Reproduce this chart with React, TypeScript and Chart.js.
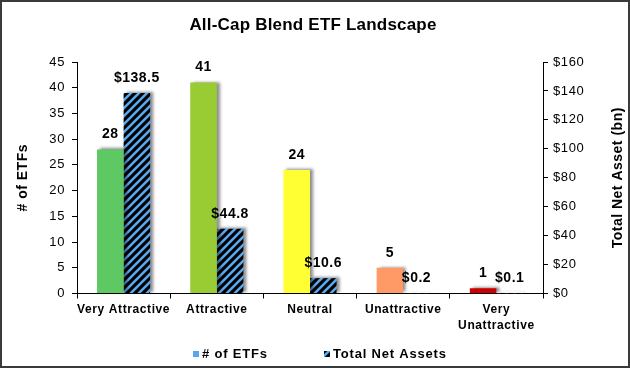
import React, { useEffect, useRef } from 'react';
import { Chart, registerables } from 'chart.js';
Chart.register(...registerables);

const chartTitle = 'All-Cap Blend ETF Landscape';
const categories: (string | string[])[] = ['Very Attractive', 'Attractive', 'Neutral', 'Unattractive', ['Very', 'Unattractive']];
const etfCounts = [28, 41, 24, 5, 1];
const netAssets = [138.5, 44.8, 10.6, 0.2, 0.1];
const countLabels = ['28', '41', '24', '5', '1'];
const assetLabels = ['$138.5', '$44.8', '$10.6', '$0.2', '$0.1'];
const leftTicks = [0, 5, 10, 15, 20, 25, 30, 35, 40, 45];
const rightTicks = [0, 20, 40, 60, 80, 100, 120, 140, 160];
const seriesNames = ['# of ETFs', 'Total Net Assets'];
const leftAxisTitle = '# of ETFs';
const rightAxisTitle = 'Total Net Asset (bn)';
const barColors = ['#5ec862', '#99cc33', '#ffff33', '#ff9966', '#cc0000'];

const FONT = "'Liberation Sans', Arial, sans-serif";
const BLUE = '#58a8f0';

function makePattern(): CanvasPattern | string {
  const c = document.createElement('canvas');
  c.width = 8;
  c.height = 8;
  const g = c.getContext('2d');
  if (!g) return '#000';
  g.fillStyle = '#000';
  g.fillRect(0, 0, 8, 8);
  g.strokeStyle = BLUE;
  g.lineWidth = 2.6;
  g.beginPath();
  g.moveTo(-2, 10); g.lineTo(10, -2);
  g.moveTo(-6, 6); g.lineTo(6, -6);
  g.moveTo(2, 14); g.lineTo(14, 2);
  g.stroke();
  const p = g.createPattern(c, 'repeat');
  return p || '#000';
}

export default function App() {
  const ref = useRef<HTMLCanvasElement>(null);
  useEffect(() => {
    if (!ref.current) return;
    const pattern = makePattern();

    const spacingPlugin = {
      id: 'spacing',
      beforeDraw(chart: any) {
        chart.ctx.letterSpacing = '0.6px';
      },
    };

    const shadowPlugin = {
      id: 'barShadow',
      beforeDatasetDraw(chart: any) {
        const ctx = chart.ctx;
        ctx.save();
        ctx.shadowColor = 'rgba(0,0,0,0.45)';
        ctx.shadowBlur = 3;
        ctx.shadowOffsetX = 3;
        ctx.shadowOffsetY = -1;
      },
      afterDatasetDraw(chart: any) {
        chart.ctx.restore();
      },
    };

    const decorPlugin = {
      id: 'decor',
      afterDraw(chart: any) {
        const ctx = chart.ctx;
        const area = chart.chartArea;
        ctx.save();
        ctx.letterSpacing = '0.5px';
        // value labels
        ctx.fillStyle = '#000';
        ctx.font = `bold 14px ${FONT}`;
        ctx.textAlign = 'center';
        ctx.textBaseline = 'middle';
        const lbls = [countLabels, assetLabels];
        [0, 1].forEach((di) => {
          const meta = chart.getDatasetMeta(di);
          meta.data.forEach((el: any, i: number) => {
            ctx.fillText(lbls[di][i], el.x, el.y - 15);
          });
        });
        // title
        ctx.letterSpacing = '0.2px';
        ctx.font = `bold 17px ${FONT}`;
        ctx.fillText(chartTitle, 313, 25);
        // axis titles
        ctx.letterSpacing = '0.5px';
        ctx.font = `bold 14px ${FONT}`;
        const midY = (area.top + area.bottom) / 2;
        ctx.save();
        ctx.translate(23, midY);
        ctx.rotate(-Math.PI / 2);
        ctx.fillText(leftAxisTitle, 0, 0);
        ctx.restore();
        ctx.save();
        ctx.translate(618, midY);
        ctx.rotate(-Math.PI / 2);
        ctx.fillText(rightAxisTitle, 0, 0);
        ctx.restore();
        // legend
        ctx.letterSpacing = '0.8px';
        ctx.font = `bold 13px ${FONT}`;
        ctx.textAlign = 'left';
        ctx.fillStyle = BLUE;
        ctx.fillRect(193, 351, 6, 6);
        ctx.fillStyle = '#000';
        ctx.fillText(seriesNames[0], 202, 354.5);
        ctx.fillStyle = pattern;
        ctx.fillRect(324, 351, 6, 6);
        ctx.fillStyle = '#000';
        ctx.fillText(seriesNames[1], 333, 354.5);
        // border
        ctx.strokeStyle = '#3a3a3a';
        ctx.lineWidth = 2;
        ctx.strokeRect(1, 1, 628, 366);
        ctx.restore();
      },
    };

    const tickFont = { family: FONT, size: 13 };
    const chart = new Chart(ref.current, {
      type: 'bar',
      data: {
        labels: categories as any,
        datasets: [
          {
            label: seriesNames[0],
            data: etfCounts,
            backgroundColor: barColors,
            yAxisID: 'y',
            categoryPercentage: 0.57,
            barPercentage: 1.0,
          },
          {
            label: seriesNames[1],
            data: netAssets,
            backgroundColor: pattern as any,
            yAxisID: 'y1',
            categoryPercentage: 0.57,
            barPercentage: 1.0,
          },
        ],
      },
      options: {
        responsive: false,
        animation: false,
        devicePixelRatio: 1,
        layout: { padding: { top: 62, bottom: 30, left: 0, right: 0 } },
        plugins: {
          legend: { display: false },
          title: { display: false },
          tooltip: { enabled: false },
        },
        scales: {
          x: {
            offset: true,
            grid: { display: true, drawOnChartArea: false, drawTicks: true, tickLength: 5, color: '#000', offset: true },
            border: { color: '#000', width: 1 },
            ticks: {
              font: { family: FONT, size: 12, weight: 'bold', lineHeight: 1.35 },
              color: '#000',
              maxRotation: 0,
              autoSkip: false,
              padding: 3,
            },
            afterFit: (s: any) => { s.height = 44.5; },
          },
          y: {
            position: 'left',
            min: 0,
            max: 45,
            afterBuildTicks: (s: any) => { s.ticks = leftTicks.map((v) => ({ value: v })); },
            ticks: { font: tickFont, color: '#000', padding: 7 },
            grid: { display: true, drawOnChartArea: false, drawTicks: true, tickLength: 5, color: '#000' },
            border: { color: '#000', width: 1 },
            afterFit: (s: any) => { s.width = 77; },
          },
          y1: {
            position: 'right',
            min: 0,
            max: 160,
            afterBuildTicks: (s: any) => { s.ticks = rightTicks.map((v) => ({ value: v })); },
            ticks: { font: tickFont, color: '#000', padding: 5, callback: (v: any) => '$' + v },
            grid: { display: true, drawOnChartArea: false, drawTicks: true, tickLength: 5, color: '#000' },
            border: { color: '#000', width: 1 },
            afterFit: (s: any) => { s.width = 87; },
          },
        },
      } as any,
      plugins: [spacingPlugin, shadowPlugin, decorPlugin],
    });
    return () => chart.destroy();
  }, []);

  return (
    <div style={{ position: 'fixed', left: 0, top: 0, width: 630, height: 368, background: '#fff' }}>
      <canvas ref={ref} width={630} height={368} style={{ width: 630, height: 368, display: 'block' }} />
    </div>
  );
}
